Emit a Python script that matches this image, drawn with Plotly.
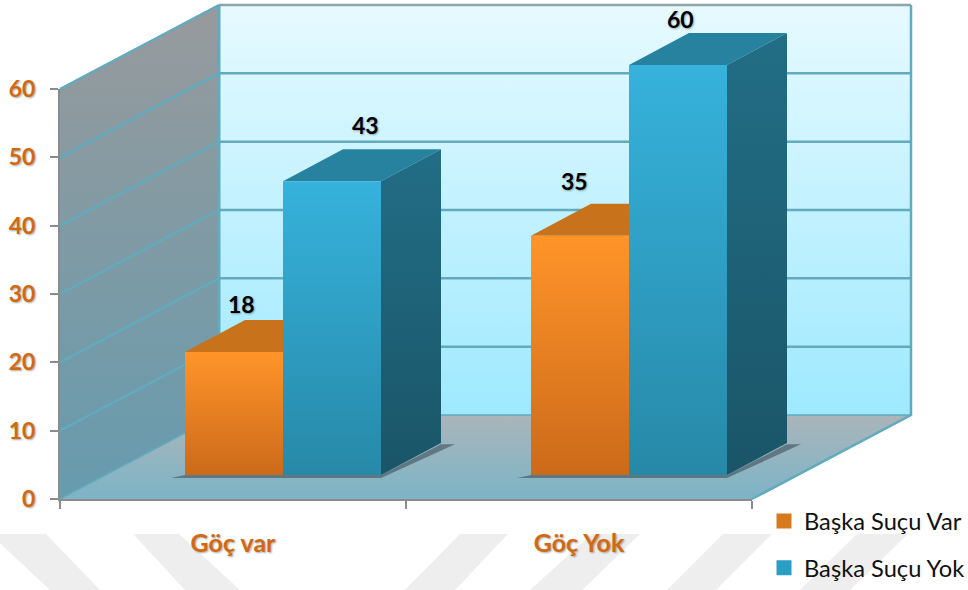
import plotly.graph_objects as go

CATEGORIES = ["Göç var", "Göç Yok"]
SERIES_NAMES = ["Başka Suçu Var", "Başka Suçu Yok"]
SERIES_VAR = [18, 35]
SERIES_YOK = [43, 60]
Y_TICKS = [0, 10, 20, 30, 40, 50, 60]

W, H = 968, 590
AX_L, AX_R, AX_T, AX_B = 60, 752, 89, 499   # front plane of the chart, in page pixels
PX_X = (AX_R - AX_L) / 2      # px per category
PX_Y = (AX_B - AX_T) / 60     # px per value unit
DX, DY = 159 / PX_X, 84 / PX_Y         # chart depth
BDX, BDY = 60 / PX_X, 32 / PX_Y        # bar depth
BW = 98 / PX_X
BASE = 24 / PX_Y
GROUP_CENTERS = [i + 0.5 + 50 / PX_X for i in range(len(CATEGORIES))]

TICK_COL = "#D2690F"
GRID_COL = "#62AABD"
AXIS_COL = "#8C8C8C"
FONT = "Lato, Carlito, Calibri, sans-serif"
SHADOW = "1px 1px 2px rgba(0,0,0,0.35)"

fig = go.Figure()


def poly(xs, ys, fill=None, grad=None, line=None, lw=0):
    kw = dict(
        x=xs + xs[:1], y=ys + ys[:1], mode="lines", fill="toself", cliponaxis=False,
        showlegend=False, hoverinfo="skip",
        line=dict(color=line or "rgba(0,0,0,0)", width=lw),
    )
    if grad:
        lo, hi, c_lo, c_hi = grad
        kw["fillgradient"] = dict(type="vertical", start=lo, stop=hi,
                                  colorscale=[[0, c_lo], [1, c_hi]])
    else:
        kw["fillcolor"] = fill
    fig.add_trace(go.Scatter(**kw))


def line(xs, ys, color, width):
    fig.add_trace(go.Scatter(x=xs, y=ys, mode="lines", cliponaxis=False, showlegend=False,
                             hoverinfo="skip", line=dict(color=color, width=width)))


# Legend and base bars (sit in the bar layer, the shaded faces are drawn over them)
palette = [("#D67A1E", "#FF9429", "#CC6A1A", "#C8721B", "#B05F14", "#A05A14"),
           ("#2A9FC4", "#36B2DC", "#2789A8", "#27829F", "#226E85", "#1A5568")]
for k, (name, vals) in enumerate(zip(SERIES_NAMES, [SERIES_VAR, SERIES_YOK])):
    fig.add_trace(go.Bar(
        x=GROUP_CENTERS, y=vals, base=BASE, width=BW, offset=-BW if k == 0 else 0,
        name=name, legendgroup=name,
        marker=dict(color=palette[k][0], line=dict(color=palette[k][0], width=3)),
        hoverinfo="skip",
    ))

# Walls and floor
poly([0, DX, DX, 0], [0, DY, DY + 60, 60], grad=(0, DY + 60, "#669BAE", "#979A9C"))
poly([DX, DX + 2, DX + 2, DX], [DY, DY, DY + 60, DY + 60], grad=(DY, DY + 60, "#9EE9FF", "#E6FAFF"))
poly([0, 2, 2 + DX, DX], [0, 0, DY, DY], grad=(0, DY, "#7DB4C6", "#AAB5BA"))

# Grid lines
for t in Y_TICKS[1:-1]:
    line([0, DX, DX + 2], [t, t + DY, t + DY], GRID_COL, 2.5)
line([DX, DX + 2], [60 + DY, 60 + DY], "#8FA5AC", 2.5)
line([0, DX], [60, 60 + DY], GRID_COL, 2.5)
line([DX, DX], [DY, DY + 60], GRID_COL, 3)
line([DX + 2, DX + 2, 2], [DY + 60, DY, 0], GRID_COL, 2.5)
line([0, DX, DX + 2], [0, DY, DY], GRID_COL, 1.5)

# Bars
for g, center in enumerate(GROUP_CENTERS):
    left, right = center - BW, center + BW
    sx, sy = 14 / PX_X, 3 / PX_Y
    poly([left - sx, right, right + BDX + sx, right + BDX, right, left],
         [BASE - sy, BASE - sy, BASE + BDY - 0.2, BASE + BDY - 0.2, BASE, BASE],
         fill="rgba(60,80,90,0.6)")
    for k, vals in enumerate([SERIES_VAR, SERIES_YOK]):
        v = vals[g]
        x0 = center - BW if k == 0 else center
        x1 = x0 + BW
        top = BASE + v
        _, c_top, c_bot, c_cap, c_side_top, c_side_bot = palette[k]
        poly([x0, x1, x1 + BDX, x0 + BDX], [top, top, top + BDY, top + BDY], fill=c_cap)
        poly([x1, x1 + BDX, x1 + BDX, x1], [BASE, BASE + BDY, top + BDY, top],
             grad=(BASE, top + BDY, c_side_bot, c_side_top))
        poly([x0, x1, x1, x0], [BASE, BASE, top, top], grad=(BASE, top, c_bot, c_top))

# Carrier for the visible axes
fig.add_trace(go.Scatter(x=[0.5, 1.5], y=[None, None], xaxis="x2", yaxis="y2", mode="lines",
                         showlegend=False, hoverinfo="skip"))

# Value labels
label_nudges = [[(7, 48), (33, 56)], [(-6, 55), (2, 46)]]
annotations = []
for g, center in enumerate(GROUP_CENTERS):
    for k, vals in enumerate([SERIES_VAR, SERIES_YOK]):
        xs, ys = label_nudges[g][k]
        annotations.append(dict(
            x=center + (-BW / 2 if k == 0 else BW / 2), y=BASE + vals[g], text=str(vals[g]),
            xref="x", yref="y", showarrow=False, xshift=xs, yshift=ys,
            yanchor="middle", xanchor="center",
            font=dict(family=FONT, size=23, color="#000000", weight=700, shadow=SHADOW),
        ))


def wm(x_top0, x_top1, x_bot0, x_bot1):
    """faint background band, given in page pixels"""
    px = lambda v: v / W
    py = lambda v: 1 - v / H
    path = (f"M{px(x_top0)},{py(534)} L{px(x_top1)},{py(534)} "
            f"L{px(x_bot1)},{py(590)} L{px(x_bot0)},{py(590)} Z")
    return dict(type="path", path=path, xref="paper", yref="paper", layer="below",
                fillcolor="#EEEEEE", line_width=0)


bands = [(-10, 46, 50, 100), (133, 179, 185, 240), (460, 508, 405, 455),
         (592, 640, 530, 582), (723, 772, 667, 716), (857, 908, 800, 850)]

fig.update_layout(
    width=W, height=H, margin=dict(l=0, r=0, t=0, b=0, autoexpand=False), autosize=False,
    paper_bgcolor="white", plot_bgcolor="rgba(0,0,0,0)",
    barmode="overlay", hovermode=False,
    annotations=annotations, shapes=[wm(*b) for b in bands],
    legend=dict(x=764 / W, y=1 - 499 / H, xanchor="left", yanchor="top",
                font=dict(family=FONT, size=23.7, color="#111111"),
                bgcolor="rgba(0,0,0,0)", tracegroupgap=13, itemwidth=30, traceorder="grouped"),
    # full-page axes that carry the 3D faces, same scale as the visible ones
    xaxis=dict(visible=False, domain=[0, 1], automargin=False,
               range=[-AX_L / PX_X, (W - AX_L) / PX_X]),
    yaxis=dict(visible=False, domain=[0, 1], automargin=False,
               range=[-(H - AX_B) / PX_Y, AX_B / PX_Y]),
    # visible axes on the chart's front plane
    xaxis2=dict(domain=[AX_L / W, AX_R / W], anchor="y2", automargin=False,
                range=[0, 2], tickmode="array", tickvals=[i + 0.5 for i in range(len(CATEGORIES))],
                ticktext=CATEGORIES, ticklen=0, showgrid=False, zeroline=False,
                showline=True, linecolor=AXIS_COL, linewidth=2, ticklabelstandoff=21,
                tickfont=dict(family=FONT, size=25, color=TICK_COL, weight=700, shadow=SHADOW),
                minor=dict(tickmode="array", tickvals=[0, 1, 2], ticks="outside", ticklen=8,
                           tickwidth=2, tickcolor=AXIS_COL, showgrid=False)),
    yaxis2=dict(domain=[1 - AX_B / H, 1 - AX_T / H], anchor="x2", automargin=False,
                range=[0, 60], tickmode="array", tickvals=Y_TICKS, ticks="outside", ticklen=8,
                tickwidth=2, tickcolor=AXIS_COL, showgrid=False, zeroline=False,
                showline=True, linecolor=AXIS_COL, linewidth=2, ticklabelstandoff=10,
                tickfont=dict(family=FONT, size=23, color=TICK_COL, weight=700, shadow=SHADOW)),
)

fig.write_html("out.html", config={"displayModeBar": False},
               post_script="document.body.style.margin='0';document.documentElement.style.overflow='hidden';")
